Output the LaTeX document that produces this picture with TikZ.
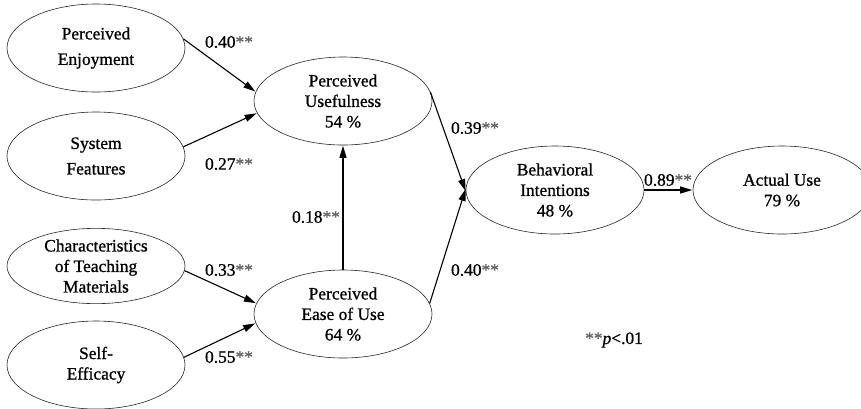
\documentclass[tikz,border=0pt]{standalone}
\usepackage{fontspec}
\setmainfont{Liberation Serif}[FakeBold=0.9]
\usetikzlibrary{shapes.geometric,arrows.meta}
\newcommand\mystars{\textcolor{black!60}{**}}
\begin{document}
\begin{tikzpicture}[x=1pt,y=-1pt,
  lat/.style={ellipse,draw=black!85,line width=0.6pt,minimum width=178pt,minimum height=88pt,inner sep=0pt,align=center,font=\fontsize{17.4}{20.5}\selectfont},
  pth/.style={-{Triangle[length=12pt,width=7pt]},line width=1.1pt,shorten >=0.5pt},
  coef/.style={inner sep=0pt,font=\fontsize{17.4}{20}\selectfont}]
\useasboundingbox (0,0) rectangle (861,408);
\clip (0,0) rectangle (861,408);
\node[lat] (pe) at (96,48) {Perceived\\[5pt]Enjoyment};
\node[lat] (sf) at (96,156) {System\\[5pt]Features};
\node[lat,minimum height=72pt] (ctm) at (96,266) {Characteristics\\of Teaching\\Materials};
\node[lat] (se) at (96,365) {Self-\\Efficacy};
\node[lat] (pu) at (343,101) {Perceived\\Usefulness\\54 \%};
\node[lat] (peou) at (343,314) {Perceived\\Ease of Use\\64 \%};
\node[lat] (bi) at (555,190) {Behavioral\\Intentions\\48 \%};
\node[lat] (au) at (782,190) {Actual Use\\79 \%};
\draw[pth] (pe.6) -- (pu.174);
\draw[pth] (sf.6) -- (pu.188);
\draw[pth] (ctm.-3) -- (peou.173);
\draw[pth] (se.5) -- (peou.186);
\draw[pth] (peou.north) -- (pu.south);
\draw[pth] (pu.6) -- (bi.181);
\draw[pth] (peou.7) -- (bi.179);
\draw[pth] (bi.east) -- (au.west);
\node[coef] (c1) at (229,42) {0.40\mystars};
\node[coef] (c2) at (229,164) {0.27\mystars};
\node[coef] (c3) at (229,270) {0.33\mystars};
\node[coef] (c4) at (229,357) {0.55\mystars};
\node[coef] (c5) at (316,217) {0.18\mystars};
\node[coef] (c6) at (475,128) {0.39\mystars};
\node[coef] (c7) at (475,270) {0.40\mystars};
\node[coef] (c8) at (668,180) {0.89\mystars};
\node[coef] (note) at (614,340) {\mystars\textit{p}<.01};
\end{tikzpicture}
\end{document}
